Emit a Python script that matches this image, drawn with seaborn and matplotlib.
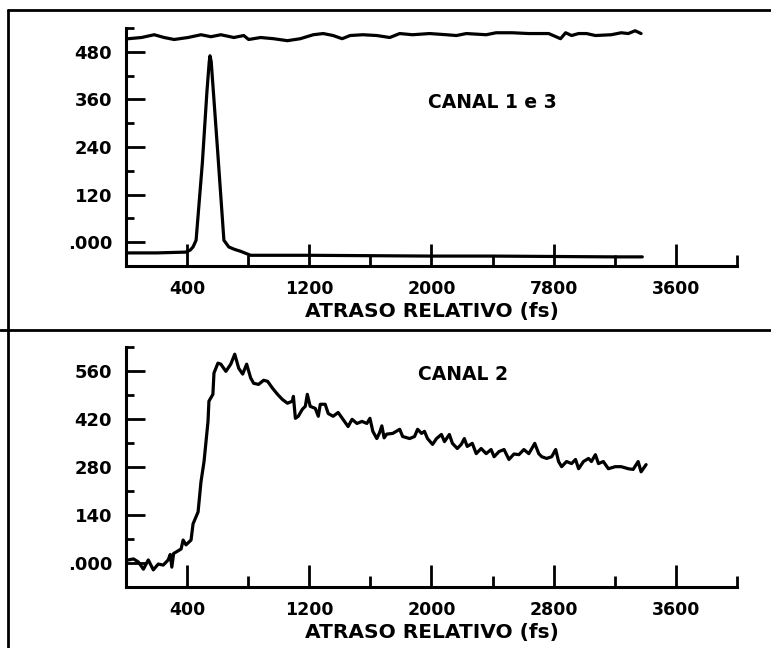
import matplotlib
matplotlib.use('Agg')
import matplotlib.pyplot as plt
import seaborn as sns
from matplotlib.lines import Line2D
from matplotlib.ticker import FixedLocator, MultipleLocator

# canal 1 e 3: upper flat trace
top_x = [16, 101, 185, 250, 315, 406, 491, 556, 621, 706, 771, 803, 881, 966,
         1057, 1141, 1226, 1291, 1356, 1415, 1467, 1551, 1642, 1727, 1792, 1876,
         1987, 2098, 2163, 2228, 2358, 2423, 2527, 2637, 2702, 2767, 2845, 2878,
         2917, 2963, 3015, 3073, 3177, 3242, 3288, 3333, 3372]
top_y = [513, 516, 523, 516, 511, 516, 523, 518, 523, 516, 521, 511, 516, 513,
         508, 513, 523, 526, 521, 513, 521, 523, 521, 516, 526, 523,
         526, 523, 521, 526, 523, 528, 528, 526, 526, 526, 513, 528,
         521, 526, 526, 521, 523, 528, 526, 533, 526]

# canal 1 e 3: autocorrelation peak
peak_x = [0, 200, 390, 420, 439, 459, 500, 530, 545, 550, 558, 600, 641, 673,
          710, 751, 816, 1200, 1600, 2000, 2400, 2800, 3200, 3380]
peak_y = [-27, -27, -25, -20, -12, 5, 200, 380, 455, 470, 455, 230, 5, -12,
          -18, -23, -33, -33, -34, -35, -35, -36, -37, -37]

# canal 2
c2_x = [16, 49, 81, 114, 146, 179, 211, 244, 276, 290, 300, 312, 328, 361, 374,
        393, 426, 439, 472, 491, 511, 537, 543, 569, 576, 602, 621, 654, 686,
        712, 738, 764, 790, 816, 836, 868, 901, 927, 959, 992, 1024, 1057, 1089,
        1096, 1109, 1128, 1154, 1174, 1187, 1206, 1239, 1259, 1272, 1304, 1324,
        1356, 1389, 1421, 1454, 1480, 1512, 1545, 1577, 1597, 1616, 1642, 1660,
        1675, 1690, 1707, 1746, 1792, 1811, 1857, 1889, 1909, 1935, 1954, 1974,
        2007, 2033, 2065, 2085, 2117, 2137, 2169, 2195, 2215, 2234, 2267, 2293,
        2325, 2358, 2390, 2410, 2442, 2475, 2507, 2540, 2572, 2605, 2637, 2657,
        2676, 2702, 2722, 2754, 2787, 2813, 2832, 2852, 2884, 2917, 2943, 2963,
        2995, 3028, 3047, 3073, 3093, 3125, 3158, 3203, 3242, 3288, 3320, 3353,
        3372, 3405]
c2_y = [9, 12, 3, -18, 9, -20, -3, -6, 9, 25, -12, 28, 32, 41, 67,
        53, 67, 114, 149, 237, 296, 413, 472, 492, 554, 583, 580, 559, 580,
        609, 568, 551, 580, 540, 524, 521, 533, 530, 510, 492, 477, 466, 472,
        486, 422, 428, 448, 457, 492, 457, 451, 428, 463, 463, 436,
        428, 439, 419, 398, 419, 407, 413, 407, 422, 384, 363, 380,
        400, 365, 376, 378, 390, 369, 363, 369, 390, 378, 384, 363,
        346, 363, 375, 354, 375, 349, 334, 346, 363, 340, 349, 319,
        334, 319, 331, 310, 325, 331, 302, 318, 316, 331, 319, 334,
        349, 319, 310, 305, 310, 331, 296, 281, 296, 290, 302, 275,
        296, 305, 296, 316, 290, 296, 275, 281, 281, 275, 273, 296,
        266, 287]

x_major = [400, 1200, 2000, 2800, 3600]
top_xlabels = ['400', '1200', '2000', '7800', '3600']
bot_xlabels = ['400', '1200', '2000', '2800', '3600']
top_yticks = [0, 120, 240, 360, 480]
top_ylabels = ['.000', '120', '240', '360', '480']
bot_yticks = [0, 140, 280, 420, 560]
bot_ylabels = ['.000', '140', '280', '420', '560']

sns.set_style('ticks')
plt.rcParams['font.family'] = ['DejaVu Sans']
plt.rcParams['font.weight'] = 'bold'
plt.rcParams['text.color'] = 'black'
plt.rcParams['axes.labelcolor'] = 'black'

fig = plt.figure(figsize=(7.71, 6.48), dpi=100)
ax1 = fig.add_axes([0.1634, 0.5895, 0.7925, 0.3673])
ax2 = fig.add_axes([0.1634, 0.0941, 0.7925, 0.3704])


def style_axis(ax, ylim, yticks, ylabels, yminor, xlabels):
    ax.set_xlim(0, 4000)
    ax.set_ylim(*ylim)
    sns.despine(ax=ax)
    for s in ['left', 'bottom']:
        ax.spines[s].set_linewidth(2.2)
        ax.spines[s].set_color('black')
    ax.xaxis.set_major_locator(FixedLocator(x_major))
    ax.set_xticklabels(xlabels)
    ax.xaxis.set_minor_locator(MultipleLocator(800))
    ax.set_yticks(yticks)
    ax.set_yticklabels(ylabels)
    ax.yaxis.set_minor_locator(MultipleLocator(yminor))
    ax.tick_params(axis='x', which='major', direction='in', length=16,
                   width=2, pad=10, labelsize=12.5, colors='black')
    ax.tick_params(axis='x', which='minor', direction='in', length=8,
                   width=2, colors='black')
    ax.tick_params(axis='y', which='major', direction='in', length=14,
                   width=2, pad=10, labelsize=13, colors='black')
    ax.tick_params(axis='y', which='minor', direction='in', length=6,
                   width=2, colors='black')
    for lab in ax.get_xticklabels() + ax.get_yticklabels():
        lab.set_fontweight('bold')
    ax.set_xlabel('ATRASO RELATIVO (fs)', fontsize=14.5, fontweight='bold',
                  labelpad=3, color='black')
    ax.set_ylabel('')


sns.lineplot(x=top_x, y=top_y, ax=ax1, color='black', lw=2.3)
sns.lineplot(x=peak_x, y=peak_y, ax=ax1, color='black', lw=2.3)
style_axis(ax1, (-60, 540), top_yticks, top_ylabels, 60, top_xlabels)
ax1.text(1975, 352, 'CANAL 1 e 3', fontsize=13.5, fontweight='bold',
         va='center', ha='left', color='black')

sns.lineplot(x=c2_x, y=c2_y, ax=ax2, color='black', lw=2.3)
style_axis(ax2, (-70, 630), bot_yticks, bot_ylabels, 70, bot_xlabels)
ax2.text(1909, 551, 'CANAL 2', fontsize=13.5, fontweight='bold',
         va='center', ha='left', color='black')

# frame lines of the original figure
fig.add_artist(Line2D([8 / 771, 1], [1 - 10 / 648, 1 - 10 / 648],
                      color='black', lw=2))
fig.add_artist(Line2D([0, 1], [1 - 330 / 648, 1 - 330 / 648],
                      color='black', lw=2))
fig.add_artist(Line2D([8 / 771, 8 / 771], [0, 1 - 10 / 648],
                      color='black', lw=2))

fig.savefig('out.png', dpi=100)
